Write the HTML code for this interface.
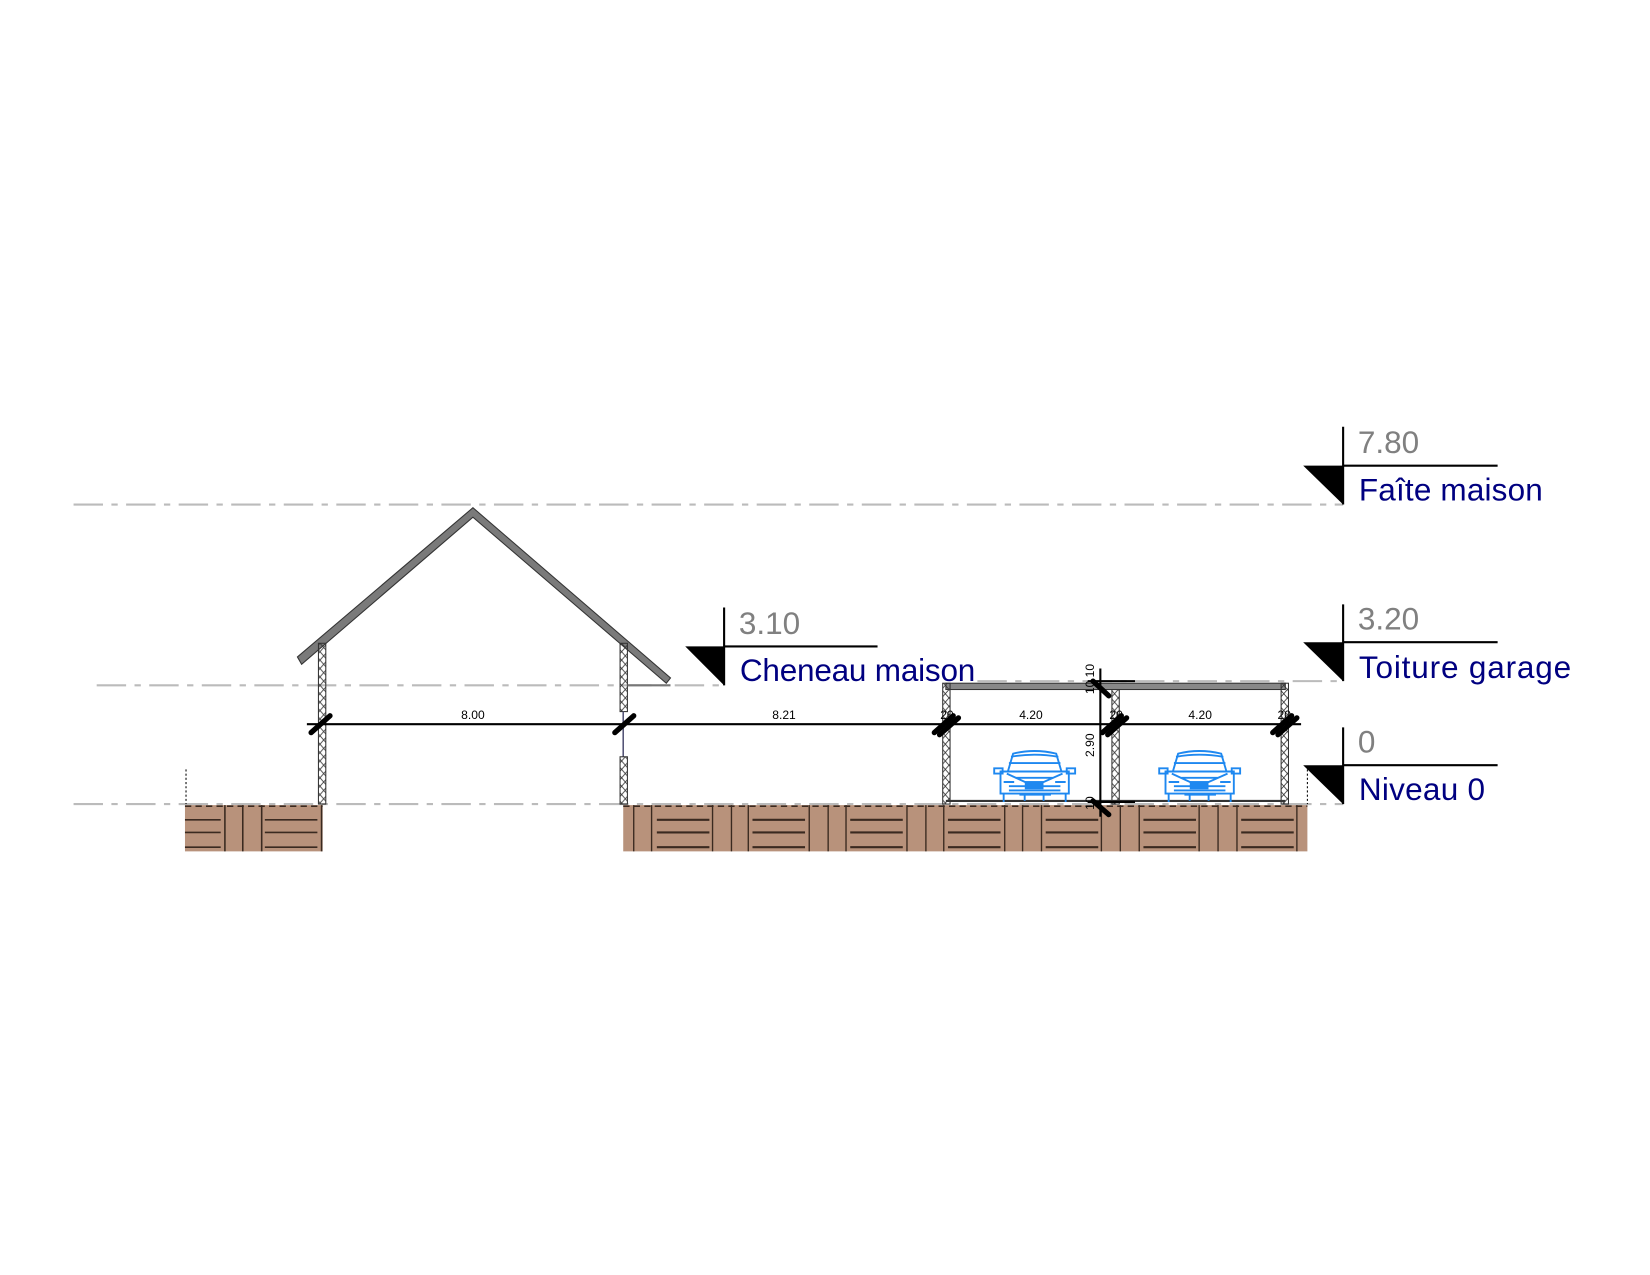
<!DOCTYPE html>
<html><head><meta charset="utf-8"><style>html,body{margin:0;padding:0;background:#fff}svg{display:block}</style></head>
<body>
<svg width="1650" height="1275" viewBox="0 0 1570 1213" xmlns="http://www.w3.org/2000/svg" font-family="Liberation Sans, sans-serif">
<defs>
<pattern id="hx" width="7" height="8" patternUnits="userSpaceOnUse"><path d="M0 0L7 8M7 0L0 8" stroke="#333" stroke-width="0.8"/></pattern>
</defs>
<rect width="1570" height="1213" fill="#fff"/>
<g stroke="#bbb" stroke-width="2" stroke-dasharray="28 8 6 8" fill="none">
<line x1="70" y1="480" x2="1278" y2="480"/>
<line x1="92" y1="652" x2="690" y2="652"/>
<line x1="930" y1="648" x2="1278" y2="648"/>
<line x1="70" y1="765" x2="1278" y2="765"/>
</g>
<g>
<rect x="176" y="766" width="131" height="44" fill="#b8927b"/>
<rect x="593" y="766" width="651" height="44" fill="#b8927b"/>
<g stroke="#3a2a20" stroke-width="1.5">
<line x1="176" y1="767" x2="307" y2="767" stroke-dasharray="6 4"/>
<line x1="593" y1="767" x2="1244" y2="767" stroke-dasharray="6 4"/>
<line x1="214" y1="766" x2="214" y2="810"/><line x1="231" y1="766" x2="231" y2="810"/><line x1="249" y1="766" x2="249" y2="810"/><line x1="306" y1="766" x2="306" y2="810"/>
<line x1="176" y1="780" x2="210" y2="780"/><line x1="176" y1="792" x2="210" y2="792"/><line x1="176" y1="806" x2="210" y2="806"/>
<line x1="252" y1="780" x2="302" y2="780"/><line x1="252" y1="792" x2="302" y2="792"/><line x1="252" y1="806" x2="302" y2="806"/>
</g>
<g stroke="#3a2a20" stroke-width="1.3">
<line x1="603" y1="766" x2="603" y2="810"/><line x1="620" y1="766" x2="620" y2="810"/><line x1="678" y1="766" x2="678" y2="810"/><line x1="696" y1="766" x2="696" y2="810"/><line x1="712" y1="766" x2="712" y2="810"/><line x1="770" y1="766" x2="770" y2="810"/><line x1="788" y1="766" x2="788" y2="810"/><line x1="805" y1="766" x2="805" y2="810"/><line x1="863" y1="766" x2="863" y2="810"/><line x1="881" y1="766" x2="881" y2="810"/><line x1="898" y1="766" x2="898" y2="810"/><line x1="956" y1="766" x2="956" y2="810"/><line x1="973" y1="766" x2="973" y2="810"/><line x1="991" y1="766" x2="991" y2="810"/><line x1="1048" y1="766" x2="1048" y2="810"/><line x1="1066" y1="766" x2="1066" y2="810"/><line x1="1084" y1="766" x2="1084" y2="810"/><line x1="1141" y1="766" x2="1141" y2="810"/><line x1="1159" y1="766" x2="1159" y2="810"/><line x1="1177" y1="766" x2="1177" y2="810"/><line x1="1234" y1="766" x2="1234" y2="810"/>
</g>
<g stroke="#3a2a20" stroke-width="2">
<path d="M625 780H675M625 792H675M625 806H675 M716 780H766M716 792H766M716 806H766 M809 780H859M809 792H859M809 806H859 M902 780H952M902 792H952M902 806H952 M995 780H1045M995 792H1045M995 806H1045 M1088 780H1138M1088 792H1138M1088 806H1138 M1181 780H1231M1181 792H1231M1181 806H1231"/>
</g>
</g>
<line x1="177" y1="732" x2="177" y2="765" stroke="#000" stroke-dasharray="2 2"/>
<line x1="1244" y1="732" x2="1244" y2="765" stroke="#000" stroke-dasharray="2 2"/>
<polygon points="283,625 450,483 638,645 634,650 450,492 287,632" fill="#7a7a7a" stroke="#333" stroke-width="1"/>
<rect x="303" y="612" width="7" height="153" fill="url(#hx)" stroke="#333"/>
<rect x="590" y="612" width="7" height="65" fill="url(#hx)" stroke="#333"/>
<line x1="593" y1="677" x2="593" y2="720" stroke="#557" stroke-width="1.5"/>
<rect x="590" y="720" width="7" height="45" fill="url(#hx)" stroke="#333"/>
<line x1="597" y1="652" x2="638" y2="652" stroke="#777" stroke-width="2"/>
<rect x="900" y="650" width="323" height="6" fill="#888" stroke="#333"/>
<rect x="897" y="650" width="7" height="115" fill="url(#hx)" stroke="#333"/>
<rect x="1058" y="656" width="7" height="109" fill="url(#hx)" stroke="#333"/>
<rect x="1219" y="650" width="7" height="115" fill="url(#hx)" stroke="#333"/>
<line x1="900" y1="762" x2="1223" y2="762" stroke="#333" stroke-width="2"/>
<g id="car" fill="none" stroke="#1e88f0" stroke-width="1.8">
<path d="M959 734 L964 717 Q984 712 1005 717 L1010 734"/>
<path d="M962 720 Q984 716 1007 720 M960 726 H1009"/>
<path d="M952 734 H1017 V755 H952 Z"/>
<path d="M946 731 h8 v5 h-8z M1015 731 h8 v5 h-8z"/>
<path d="M958 736 L984 748 L1011 736 M966 740 h36 M960 748 h49 M960 752 h49 M955 744 h10 M1004 744 h10"/>
<path d="M955 755 v8 M1014 755 v8 M970 756 h30 M975 756 v6 M993 756 v6"/>
<rect x="976" y="744" width="16" height="6" fill="#1e88f0"/>
</g>
<use href="#car" x="157"/>
<line x1="292" y1="689" x2="1238" y2="689" stroke="#000" stroke-width="2"/>
<g stroke="#000" stroke-width="5" stroke-linecap="round">
<line x1="296" y1="697" x2="314" y2="681"/>
<line x1="585" y1="697" x2="603" y2="681"/>
<line x1="889" y1="697" x2="907" y2="681"/><line x1="894" y1="699" x2="912" y2="683"/>
<line x1="1049" y1="697" x2="1067" y2="681"/><line x1="1054" y1="699" x2="1072" y2="683"/>
<line x1="1211" y1="697" x2="1229" y2="681"/><line x1="1216" y1="699" x2="1234" y2="683"/>
<line x1="1040" y1="648" x2="1055" y2="662"/><line x1="1040" y1="762" x2="1055" y2="775"/>
</g>
<line x1="1047" y1="636" x2="1047" y2="777" stroke="#000" stroke-width="2"/>
<line x1="1035" y1="648" x2="1080" y2="648" stroke="#000" stroke-width="2"/>
<line x1="1035" y1="763" x2="1080" y2="763" stroke="#000" stroke-width="2"/>
<g font-size="11.5" fill="#000" text-anchor="middle">
<text x="450" y="684">8.00</text><text x="746" y="684">8.21</text>
<text x="901" y="684">20</text><text x="981" y="684">4.20</text>
<text x="1062" y="684">20</text><text x="1142" y="684">4.20</text><text x="1222" y="684">20</text>
<text transform="translate(1041,709) rotate(-90)">2.90</text>
<text transform="translate(1041,654) rotate(-90)">10</text>
<text transform="translate(1041,638) rotate(-90)">10</text>
<text transform="translate(1041,764) rotate(-90)">10</text>
</g>
<g stroke="#000" stroke-width="2">
<line x1="1278" y1="406" x2="1278" y2="480"/><line x1="1278" y1="443" x2="1425" y2="443"/>
<line x1="1278" y1="575" x2="1278" y2="648"/><line x1="1278" y1="611" x2="1425" y2="611"/>
<line x1="1278" y1="692" x2="1278" y2="765"/><line x1="1278" y1="728" x2="1425" y2="728"/>
<line x1="689" y1="578" x2="689" y2="652"/><line x1="689" y1="615" x2="835" y2="615"/>
</g>
<polygon points="1240,443 1278,443 1278,480" fill="#000"/>
<polygon points="1240,611 1278,611 1278,648" fill="#000"/>
<polygon points="1240,728 1278,728 1278,765" fill="#000"/>
<polygon points="652,615 689,615 689,652" fill="#000"/>
<g font-size="30">
<text x="1292" y="431" fill="#808080">7.80</text>
<text x="1293" y="476" fill="#000080" textLength="175">Faîte maison</text>
<text x="1292" y="599" fill="#808080">3.20</text>
<text x="1293" y="645" fill="#000080" textLength="202">Toiture garage</text>
<text x="1292" y="716" fill="#808080">0</text>
<text x="1293" y="761" fill="#000080" textLength="120">Niveau 0</text>
<text x="703" y="603" fill="#808080">3.10</text>
<text x="704" y="648" fill="#000080" textLength="224">Cheneau maison</text>
</g>
</svg>
</body></html>
